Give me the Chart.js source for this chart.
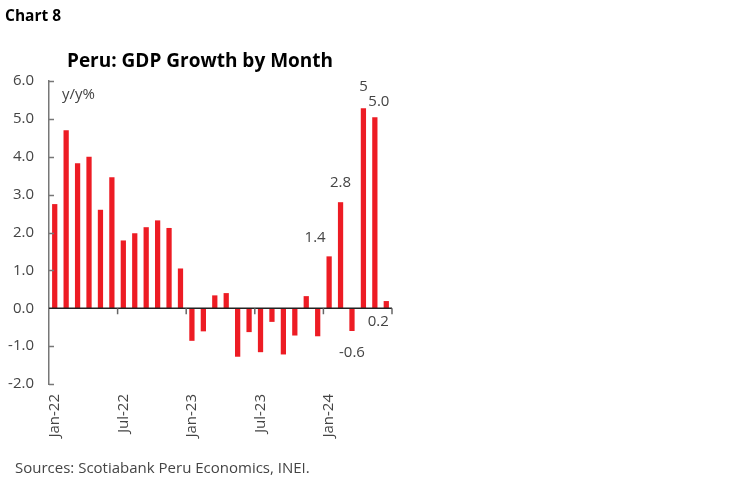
<!DOCTYPE html>
<html>
<head>
<meta charset="utf-8">
<script src="https://cdn.jsdelivr.net/npm/chart.js@4"></script>
<style>
  html, body { margin: 0; padding: 0; background: #fff; }
  #wrap { width: 748px; height: 483px; position: relative; }
</style>
</head>
<body>
<div id="wrap"><canvas id="gdp-chart"></canvas></div>
<script>
// data
const months = [
  'Jan-22', 'Feb-22', 'Mar-22', 'Apr-22', 'May-22', 'Jun-22',
  'Jul-22', 'Aug-22', 'Sep-22', 'Oct-22', 'Nov-22', 'Dec-22',
  'Jan-23', 'Feb-23', 'Mar-23', 'Apr-23', 'May-23', 'Jun-23',
  'Jul-23', 'Aug-23', 'Sep-23', 'Oct-23', 'Nov-23', 'Dec-23',
  'Jan-24', 'Feb-24', 'Mar-24', 'Apr-24', 'May-24', 'Jun-24'
];
const gdpGrowth = [
  2.75, 4.7, 3.83, 4.0, 2.6, 3.46,
  1.79, 1.98, 2.14, 2.32, 2.12, 1.05,
  -0.86, -0.61, 0.34, 0.40, -1.28, -0.63,
  -1.16, -0.36, -1.22, -0.72, 0.32, -0.74,
  1.37, 2.8, -0.6, 5.28, 5.04, 0.19
];
const barLabels = [
  null, null, null, null, null, null,
  null, null, null, null, null, null,
  null, null, null, null, null, null,
  null, null, null, null, null, null,
  '1.4', '2.8', '-0.6', '5', '5.0', '0.2'
];
const yTicks = [-2, -1, 0, 1, 2, 3, 4, 5, 6];

const FONT = "'Open Sans', 'DejaVu Sans', sans-serif";
const TEXT = '#444';
const RED = '#ED1C24';

// where the label sits relative to the bar end (dx, dy)
const labelShift = {
  24: [-14, -19], 25: [0, -19], 26: [0, 22],
  27: [0, -22], 28: [4, -16], 29: [-8, 21]
};

const decorPlugin = {
  id: 'decor',
  afterDraw(chart) {
    const ctx = chart.ctx;
    const area = chart.chartArea;
    const x = chart.scales.x;
    const y = chart.scales.y;
    const zeroY = y.getPixelForValue(0);
    const step = x.getPixelForValue(1) - x.getPixelForValue(0);

    ctx.save();

    // y tick marks, pointing into the plot
    ctx.strokeStyle = '#777';
    ctx.lineWidth = 1.5;
    yTicks.forEach(v => {
      if (v === 0) return;
      const py = Math.round(y.getPixelForValue(v)) + 0.5;
      ctx.beginPath();
      ctx.moveTo(area.left, py);
      ctx.lineTo(area.left + 5, py);
      ctx.stroke();
    });

    // zero line with ticks every six months
    ctx.strokeStyle = '#222';
    ctx.lineWidth = 1.5;
    ctx.beginPath();
    ctx.moveTo(area.left, zeroY);
    ctx.lineTo(area.right, zeroY);
    ctx.stroke();
    ctx.strokeStyle = '#666';
    for (let i = 6; i <= months.length; i += 6) {
      const px = x.getPixelForValue(i) - step / 2;
      ctx.beginPath();
      ctx.moveTo(px, zeroY);
      ctx.lineTo(px, zeroY + 6);
      ctx.stroke();
    }

    // bar labels
    const meta = chart.getDatasetMeta(0);
    ctx.fillStyle = TEXT;
    ctx.font = '15px ' + FONT;
    ctx.textAlign = 'center';
    ctx.textBaseline = 'middle';
    barLabels.forEach((lab, i) => {
      if (!lab) return;
      const bar = meta.data[i];
      const s = labelShift[i] || [0, -12];
      ctx.fillText(lab, bar.x + s[0], bar.y + s[1]);
    });

    // texts around the chart
    ctx.textBaseline = 'alphabetic';
    ctx.textAlign = 'left';
    ctx.font = '15px ' + FONT;
    ctx.fillText('y/y%', 62, 99);

    ctx.fillStyle = '#000';
    ctx.font = 'bold 15.5px ' + FONT;
    ctx.fillText('Chart 8', 5, 21);

    ctx.font = 'bold 19px ' + FONT;
    ctx.textAlign = 'center';
    ctx.fillText('Peru: GDP Growth by Month', 200, 67);

    ctx.fillStyle = TEXT;
    ctx.textAlign = 'left';
    ctx.font = '15px ' + FONT;
    ctx.fillText('Sources: Scotiabank Peru Economics, INEI.', 15, 473);

    ctx.restore();
  }
};

new Chart(document.getElementById('gdp-chart'), {
  type: 'bar',
  data: {
    labels: months,
    datasets: [{
      data: gdpGrowth,
      backgroundColor: RED,
      borderWidth: 0,
      barPercentage: 0.46,
      categoryPercentage: 1.0
    }]
  },
  options: {
    responsive: true,
    maintainAspectRatio: false,
    animation: false,
    devicePixelRatio: 1,
    layout: { padding: { top: 81, right: 356, left: 0, bottom: 0 } },
    plugins: {
      legend: { display: false },
      tooltip: { enabled: false }
    },
    scales: {
      x: {
        position: 'bottom',
        grid: { display: false },
        border: { display: false },
        afterFit(scale) { scale.height = 483 - 384; },
        ticks: {
          autoSkip: false,
          minRotation: 90,
          maxRotation: 90,
          padding: 2,
          color: TEXT,
          font: { family: FONT, size: 15 },
          callback: function(val, idx) {
            return idx % 6 === 0 ? months[idx] : '';
          }
        }
      },
      y: {
        min: -2,
        max: 6,
        afterFit(scale) { scale.width = 49; },
        grid: { display: false, drawTicks: false },
        border: { display: true, color: '#777', width: 1.5 },
        ticks: {
          stepSize: 1,
          padding: 15,
          color: TEXT,
          font: { family: FONT, size: 15 },
          callback: v => v.toFixed(1)
        }
      }
    }
  },
  plugins: [decorPlugin]
});
</script>
</body>
</html>
